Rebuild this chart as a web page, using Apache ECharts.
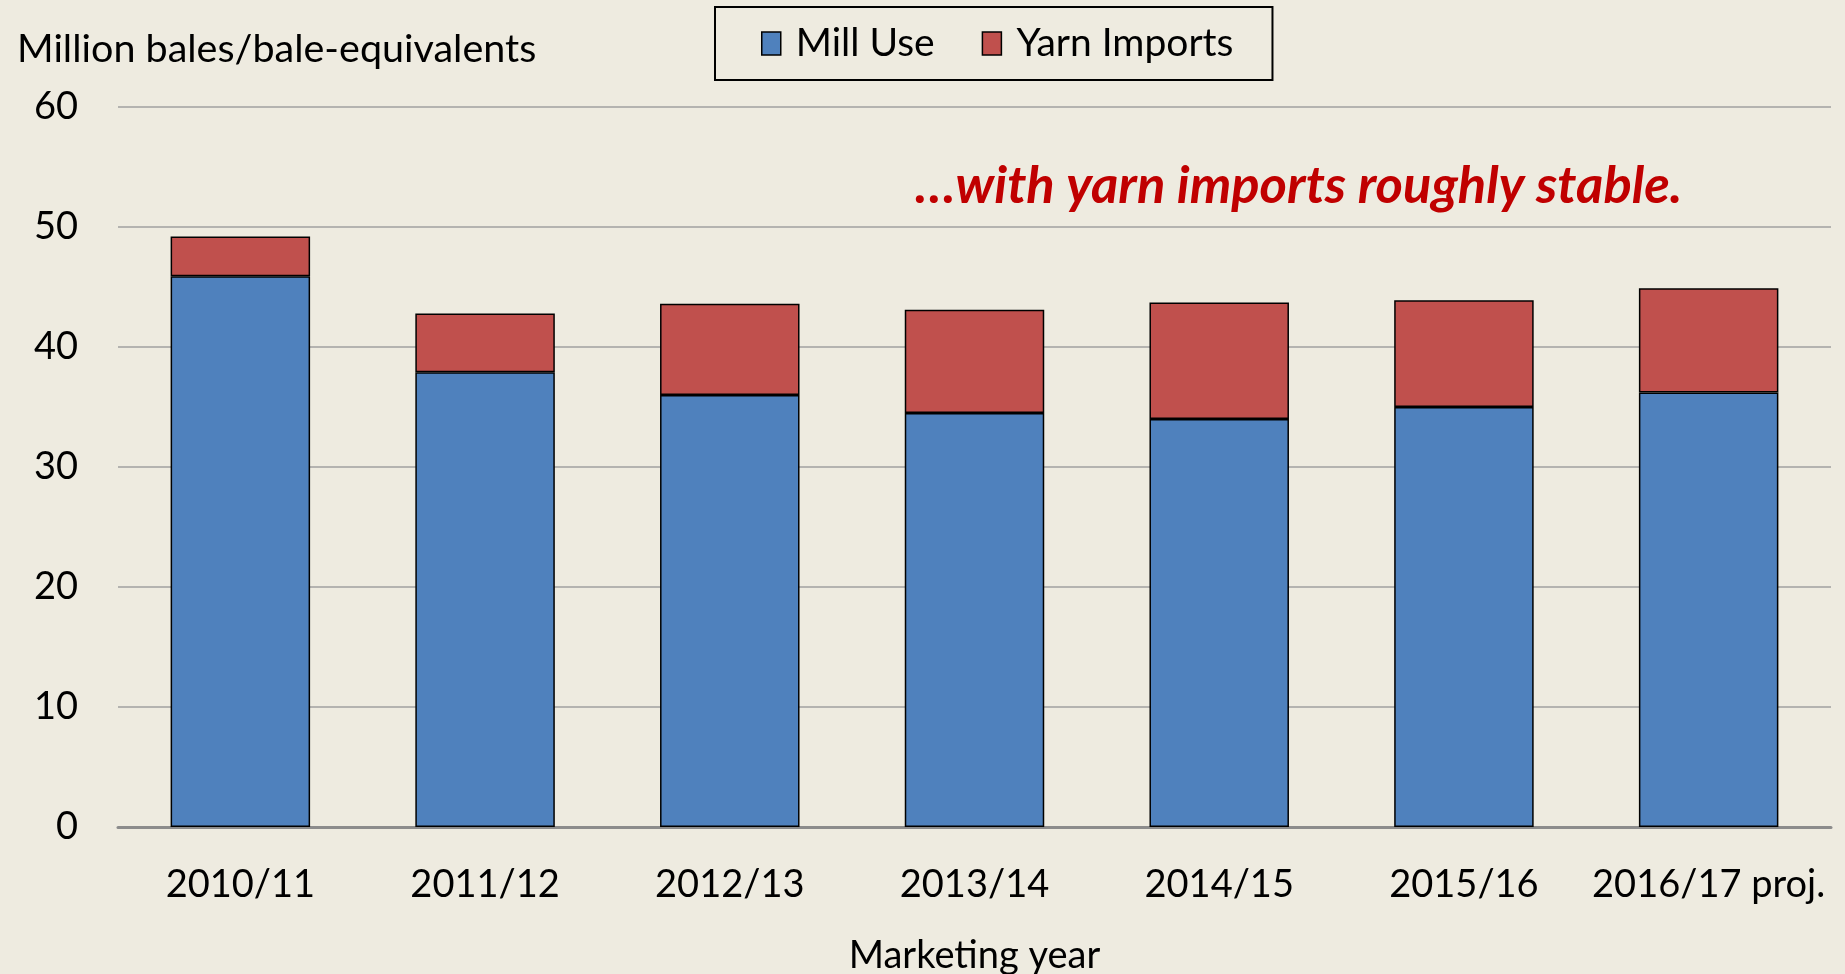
<!DOCTYPE html>
<html>
<head>
<meta charset="utf-8">
<script src="https://cdn.jsdelivr.net/npm/echarts@6/dist/echarts.min.js"></script>
<style>
  html, body { margin: 0; padding: 0; background: #EEEBE0; }
  #chart { width: 1845px; height: 974px; }
</style>
</head>
<body>
<div id="chart"></div>
<script>
var years = ['2010/11', '2011/12', '2012/13', '2013/14', '2014/15', '2015/16', '2016/17 proj.'];
var millUse = [45.9, 37.9, 36.0, 34.5, 34.0, 35.0, 36.2];
var yarnImports = [3.3, 4.9, 7.6, 8.6, 9.7, 8.9, 8.7];
var yTicks = [0, 10, 20, 30, 40, 50, 60];

var fontName = 'Lato';
var txt = { fontFamily: fontName, fontSize: 38, color: '#000' };

var myChart = echarts.init(document.getElementById('chart'));

var option = {
    backgroundColor: '#EEEBE0',
    textStyle: { fontFamily: fontName },
    title: [{
        text: 'Million bales/bale-equivalents',
        left: 12,
        top: 24,
        textStyle: { fontFamily: fontName, fontSize: 39.5, fontWeight: 'normal', color: '#000' }
    }, {
        text: '\u2026with yarn imports roughly stable.',
        left: 910,
        top: 155,
        textStyle: { fontFamily: fontName, fontSize: 52.5, fontWeight: 'bold', fontStyle: 'italic', color: '#C00000' }
    }],
    legend: {
        data: ['Mill Use', 'Yarn Imports'],
        left: 715,
        top: 7,
        padding: [17, 39, 17, 46],
        itemGap: 47,
        itemWidth: 19,
        itemHeight: 23,
        icon: 'rect',
        borderColor: '#000',
        borderWidth: 2,
        itemStyle: { borderColor: '#000', borderWidth: 1.5 },
        textStyle: { fontFamily: fontName, fontSize: 39, color: '#000', padding: [0, 0, 0, 10] }
    },
    grid: { left: 118, right: 14, top: 107, bottom: 147, containLabel: false, outerBoundsMode: 'none' },
    xAxis: {
        type: 'category',
        data: years,
        name: 'Marketing year',
        nameLocation: 'middle',
        nameGap: 110,
        nameTextStyle: txt,
        axisLine: { lineStyle: { color: '#8C8C8C', width: 3 } },
        axisTick: { show: false },
        axisLabel: Object.assign({ margin: 39, interval: 0 }, txt)
    },
    yAxis: {
        type: 'value',
        min: 0,
        max: 60,
        interval: 10,
        axisLine: { show: false },
        axisTick: { show: false },
        axisLabel: Object.assign({ margin: 40, formatter: function (v) { return yTicks.indexOf(v) >= 0 ? v : ''; } }, txt),
        splitLine: { lineStyle: { color: '#A0A0A0', width: 1.5 } }
    },
    series: [{
        name: 'Mill Use',
        type: 'bar',
        stack: 'total',
        data: millUse,
        barWidth: '57%',
        itemStyle: { color: '#4F81BD', borderColor: '#000', borderWidth: 1.5 }
    }, {
        name: 'Yarn Imports',
        type: 'bar',
        stack: 'total',
        data: yarnImports,
        barWidth: '57%',
        itemStyle: { color: '#C0504D', borderColor: '#000', borderWidth: 1.5 }
    }]
};

myChart.setOption(option);

window.onresize = function () {
    myChart.resize();
};
</script>
</body>
</html>
